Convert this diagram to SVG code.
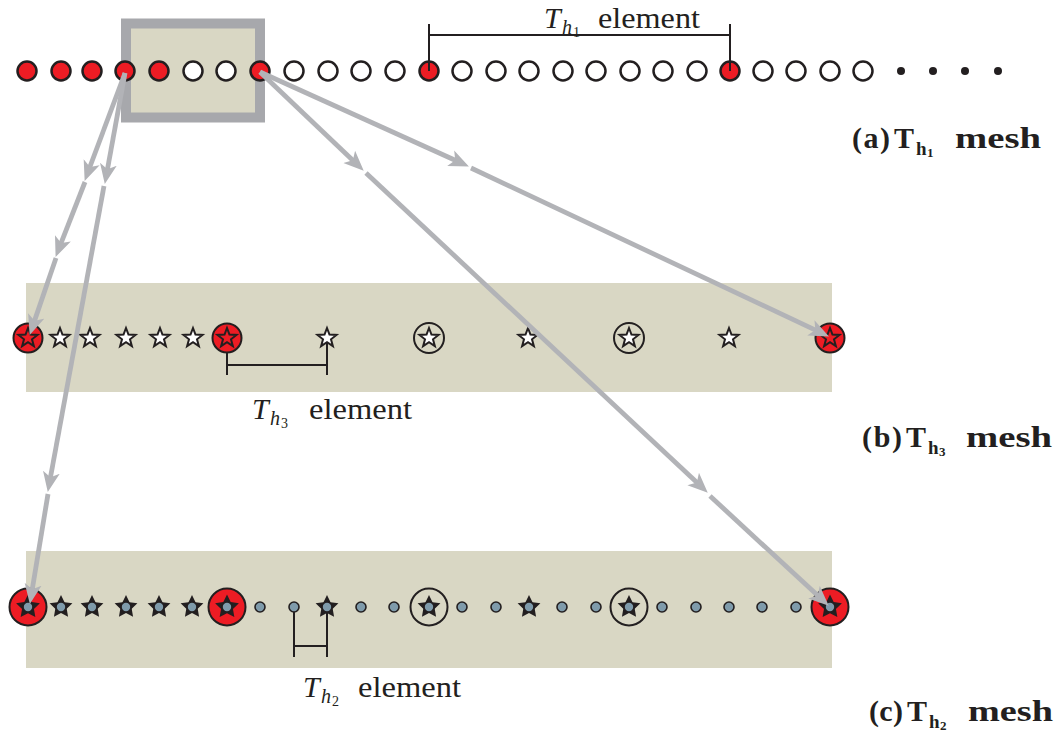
<svg xmlns="http://www.w3.org/2000/svg" xmlns:xlink="http://www.w3.org/1999/xlink" width="1060" height="734" viewBox="0 0 1060 734">
  <style>
    .panel { fill: #d9d7c4; }
    .ring { stroke: #231f20; stroke-width: 2.5; }
    .red { fill: #ed1c24; }
    .white { fill: #ffffff; }
    .dot { fill: #231f20; }
    .hollow { fill: none; stroke: #231f20; stroke-width: 2; }
    .redc { fill: #ed1c24; stroke: #231f20; stroke-width: 2; }
    .wstar { fill: #ffffff; stroke: #231f20; stroke-width: 2; stroke-linejoin: miter; }
    .rstar { fill: #ed1c24; stroke: #231f20; stroke-width: 2; }
    .bstar { fill: #231f20; }
    .bdot { fill: #7f9bab; stroke: #231f20; stroke-width: 1.6; }
    .bracket { fill: none; stroke: #231f20; stroke-width: 2; }
    .lbl { fill: #231f20; }
    .it { font-style: italic; }
    .bold { font-weight: bold; }
    .arrow { fill: none; stroke: #b2b3b7; stroke-width: 4.8; stroke-linecap: butt; marker-end: url(#head); }
  </style>
  <defs>
    <marker id="head" viewBox="0 0 20 18" markerWidth="20" markerHeight="18" refX="11" refY="9" orient="auto" markerUnits="userSpaceOnUse">
      <path d="M0,0.5 L20,9 L0,17.5 L5,9 Z" fill="#b2b3b7"/>
    </marker>
    <path id="star" d="M0,-10 L2.47,-3.4 L9.51,-3.09 L3.99,1.3 L5.88,8.09 L0,4.2 L-5.88,8.09 L-3.99,1.3 L-9.51,-3.09 L-2.47,-3.4 Z"/>
    <path id="fstar" d="M0,-10 L2.94,-4.05 L9.51,-3.09 L4.76,1.55 L5.88,8.09 L0,5 L-5.88,8.09 L-4.76,1.55 L-9.51,-3.09 L-2.94,-4.05 Z"/>
  </defs>

  <rect width="1060" height="734" fill="#ffffff"/>

  <!-- zoom frame around the first element group -->
  <rect id="frame" x="126" y="23.5" width="134" height="94" fill="#d9d7c4" stroke="#a7a8ac" stroke-width="10"/>

  <!-- mesh panels -->
  <rect id="panel-b" class="panel" x="26" y="283" width="806" height="109"/>
  <rect id="panel-c" class="panel" x="26" y="551" width="806" height="117"/>

  <!-- (a) coarse mesh nodes -->
  <g id="mesh-a">
    <g id="a0"><circle class="ring red" cx="27" cy="71" r="9.5"/></g>
    <g id="a1"><circle class="ring red" cx="61" cy="71" r="9.5"/></g>
    <g id="a2"><circle class="ring red" cx="92" cy="71" r="9.5"/></g>
    <g id="a3"><circle class="ring red" cx="125" cy="71" r="9.5"/></g>
    <g id="a4"><circle class="ring red" cx="159" cy="71" r="9.5"/></g>
    <g id="a5"><circle class="ring white" cx="193" cy="71" r="9.5"/></g>
    <g id="a6"><circle class="ring white" cx="226" cy="71" r="9.5"/></g>
    <g id="a7"><circle class="ring red" cx="260" cy="71" r="9.5"/></g>
    <g id="a8"><circle class="ring white" cx="294" cy="71" r="9.5"/></g>
    <g id="a9"><circle class="ring white" cx="328" cy="71" r="9.5"/></g>
    <g id="a10"><circle class="ring white" cx="361" cy="71" r="9.5"/></g>
    <g id="a11"><circle class="ring white" cx="395" cy="71" r="9.5"/></g>
    <g id="a12"><circle class="ring red" cx="429" cy="71" r="9.5"/></g>
    <g id="a13"><circle class="ring white" cx="462" cy="71" r="9.5"/></g>
    <g id="a14"><circle class="ring white" cx="496" cy="71" r="9.5"/></g>
    <g id="a15"><circle class="ring white" cx="529" cy="71" r="9.5"/></g>
    <g id="a16"><circle class="ring white" cx="563" cy="71" r="9.5"/></g>
    <g id="a17"><circle class="ring white" cx="596" cy="71" r="9.5"/></g>
    <g id="a18"><circle class="ring white" cx="630" cy="71" r="9.5"/></g>
    <g id="a19"><circle class="ring white" cx="663" cy="71" r="9.5"/></g>
    <g id="a20"><circle class="ring white" cx="697" cy="71" r="9.5"/></g>
    <g id="a21"><circle class="ring red" cx="730" cy="71" r="9.5"/></g>
    <g id="a22"><circle class="ring white" cx="763" cy="71" r="9.5"/></g>
    <g id="a23"><circle class="ring white" cx="796" cy="71" r="9.5"/></g>
    <g id="a24"><circle class="ring white" cx="830" cy="71" r="9.5"/></g>
    <g id="a25"><circle class="ring white" cx="863" cy="71" r="9.5"/></g>
    <g id="a26"><circle class="dot" cx="901" cy="71" r="4"/></g>
    <g id="a27"><circle class="dot" cx="933" cy="71" r="4"/></g>
    <g id="a28"><circle class="dot" cx="965" cy="71" r="4"/></g>
    <g id="a29"><circle class="dot" cx="998" cy="71" r="4"/></g>
  </g>

  <g id="labels" font-family="'Liberation Serif', 'Times New Roman', 'DejaVu Serif', serif">
    <!-- (a) element bracket and label -->
    <g id="bracket-a">
      <path class="bracket" d="M429,24 V71 M730,24 V71 M429,35 H730"/>
      <text class="lbl it" x="544" y="28" font-size="30">T</text>
      <text class="lbl it" x="562" y="34" font-size="20">h</text>
      <text class="lbl" x="573" y="37" font-size="14">1</text>
      <text class="lbl" x="598" y="28" font-size="29" textLength="102" lengthAdjust="spacingAndGlyphs">element</text>
    </g>

    <!-- (b) element bracket and label -->
    <g id="bracket-b">
      <path class="bracket" d="M227,338 V375 M327,338 V375 M227,365 H327"/>
      <text class="lbl it" x="252" y="419" font-size="30">T</text>
      <text class="lbl it" x="270" y="425" font-size="20">h</text>
      <text class="lbl" x="281" y="428" font-size="14">3</text>
      <text class="lbl" x="309" y="419" font-size="29" textLength="103" lengthAdjust="spacingAndGlyphs">element</text>
    </g>

    <!-- (c) element bracket and label -->
    <g id="bracket-c">
      <path class="bracket" d="M294,607 V657 M327,607 V657 M294,646 H327"/>
      <text class="lbl it" x="303" y="697" font-size="30">T</text>
      <text class="lbl it" x="321" y="703" font-size="20">h</text>
      <text class="lbl" x="332" y="706" font-size="14">2</text>
      <text class="lbl" x="358" y="697" font-size="29" textLength="103" lengthAdjust="spacingAndGlyphs">element</text>
    </g>

    <!-- panel captions -->
    <g id="caption-a">
      <text class="lbl bold" x="852" y="148" font-size="30" textLength="38" lengthAdjust="spacing">(a)</text>
      <text class="lbl bold" x="894" y="148" font-size="30">T</text>
      <text class="lbl bold" x="916" y="155" font-size="19">h</text>
      <text class="lbl bold" x="927" y="157" font-size="13">1</text>
      <text class="lbl bold" x="955" y="148" font-size="30" textLength="86" lengthAdjust="spacingAndGlyphs">mesh</text>
    </g>
    <g id="caption-b">
      <text class="lbl bold" x="862" y="447" font-size="30" textLength="40" lengthAdjust="spacing">(b)</text>
      <text class="lbl bold" x="906" y="447" font-size="30">T</text>
      <text class="lbl bold" x="928" y="454" font-size="19">h</text>
      <text class="lbl bold" x="939" y="456" font-size="13">3</text>
      <text class="lbl bold" x="966" y="447" font-size="30" textLength="86" lengthAdjust="spacingAndGlyphs">mesh</text>
    </g>
    <g id="caption-c">
      <text class="lbl bold" x="869" y="721" font-size="30" textLength="34" lengthAdjust="spacing">(c)</text>
      <text class="lbl bold" x="907" y="721" font-size="30">T</text>
      <text class="lbl bold" x="929" y="728" font-size="19">h</text>
      <text class="lbl bold" x="940" y="730" font-size="13">2</text>
      <text class="lbl bold" x="968" y="721" font-size="30" textLength="85" lengthAdjust="spacingAndGlyphs">mesh</text>
    </g>
  </g>

  <!-- (b) mesh nodes -->
  <g id="mesh-b">
    <g id="b0"><circle class="redc" cx="28" cy="338" r="14.5"/><use href="#star" class="rstar" transform="translate(28,338)"/></g>
    <g id="b1"><use href="#star" class="wstar" transform="translate(60,338)"/></g>
    <g id="b2"><use href="#star" class="wstar" transform="translate(90,338)"/></g>
    <g id="b3"><use href="#star" class="wstar" transform="translate(126,338)"/></g>
    <g id="b4"><use href="#star" class="wstar" transform="translate(160,338)"/></g>
    <g id="b5"><use href="#star" class="wstar" transform="translate(193,338)"/></g>
    <g id="b6"><circle class="redc" cx="227" cy="338" r="14.5"/><use href="#star" class="rstar" transform="translate(227,338)"/></g>
    <g id="b7"><use href="#star" class="wstar" transform="translate(327,338)"/></g>
    <g id="b8"><circle class="hollow" cx="429" cy="338" r="15"/><use href="#star" class="wstar" transform="translate(429,338)"/></g>
    <g id="b9"><use href="#star" class="wstar" transform="translate(528,338)"/></g>
    <g id="b10"><circle class="hollow" cx="629" cy="338" r="15"/><use href="#star" class="wstar" transform="translate(629,338)"/></g>
    <g id="b11"><use href="#star" class="wstar" transform="translate(729,338)"/></g>
    <g id="b12"><circle class="redc" cx="830" cy="338" r="14.5"/><use href="#star" class="rstar" transform="translate(830,338)"/></g>
  </g>

  <!-- (c) mesh nodes -->
  <g id="mesh-c">
    <g id="c0"><circle class="redc" cx="28" cy="607" r="18.5"/><use href="#fstar" class="bstar" transform="translate(28,607) scale(1.25)"/><circle class="bdot" cx="28" cy="607" r="5"/></g>
    <g id="c1"><use href="#fstar" class="bstar" transform="translate(61,607) scale(1.2)"/><circle class="bdot" cx="61" cy="607" r="5"/></g>
    <g id="c2"><use href="#fstar" class="bstar" transform="translate(92,607) scale(1.2)"/><circle class="bdot" cx="92" cy="607" r="5"/></g>
    <g id="c3"><use href="#fstar" class="bstar" transform="translate(126,607) scale(1.2)"/><circle class="bdot" cx="126" cy="607" r="5"/></g>
    <g id="c4"><use href="#fstar" class="bstar" transform="translate(159,607) scale(1.2)"/><circle class="bdot" cx="159" cy="607" r="5"/></g>
    <g id="c5"><use href="#fstar" class="bstar" transform="translate(192,607) scale(1.2)"/><circle class="bdot" cx="192" cy="607" r="5"/></g>
    <g id="c6"><circle class="redc" cx="227" cy="607" r="18.5"/><use href="#fstar" class="bstar" transform="translate(227,607) scale(1.25)"/><circle class="bdot" cx="227" cy="607" r="5"/></g>
    <g id="c7"><circle class="bdot" cx="260" cy="607" r="5"/></g>
    <g id="c8"><circle class="bdot" cx="294" cy="607" r="5"/></g>
    <g id="c9"><use href="#fstar" class="bstar" transform="translate(327,607) scale(1.2)"/><circle class="bdot" cx="327" cy="607" r="5"/></g>
    <g id="c10"><circle class="bdot" cx="361" cy="607" r="5"/></g>
    <g id="c11"><circle class="bdot" cx="394" cy="607" r="5"/></g>
    <g id="c12"><circle class="hollow" cx="429" cy="607" r="18.5"/><use href="#fstar" class="bstar" transform="translate(429,607) scale(1.2)"/><circle class="bdot" cx="429" cy="607" r="5"/></g>
    <g id="c13"><circle class="bdot" cx="462" cy="607" r="5"/></g>
    <g id="c14"><circle class="bdot" cx="496" cy="607" r="5"/></g>
    <g id="c15"><use href="#fstar" class="bstar" transform="translate(529,607) scale(1.2)"/><circle class="bdot" cx="529" cy="607" r="5"/></g>
    <g id="c16"><circle class="bdot" cx="562" cy="607" r="5"/></g>
    <g id="c17"><circle class="bdot" cx="596" cy="607" r="5"/></g>
    <g id="c18"><circle class="hollow" cx="629" cy="607" r="18.5"/><use href="#fstar" class="bstar" transform="translate(629,607) scale(1.2)"/><circle class="bdot" cx="629" cy="607" r="5"/></g>
    <g id="c19"><circle class="bdot" cx="662" cy="607" r="5"/></g>
    <g id="c20"><circle class="bdot" cx="696" cy="607" r="5"/></g>
    <g id="c21"><circle class="bdot" cx="729" cy="607" r="5"/></g>
    <g id="c22"><circle class="bdot" cx="762" cy="607" r="5"/></g>
    <g id="c23"><circle class="bdot" cx="796" cy="607" r="5"/></g>
    <g id="c24"><circle class="redc" cx="830" cy="607" r="18.5"/><use href="#fstar" class="bstar" transform="translate(830,607) scale(1.25)"/><circle class="bdot" cx="830" cy="607" r="5"/></g>
  </g>

  <!-- refinement connectors -->
  <g id="connectors">
    <path class="arrow" d="M125,73 L87.8,172.5"/>
    <path class="arrow" d="M85,182 L58.9,248.6"/>
    <path class="arrow" d="M56,258 L32.6,326.4"/>
    <path class="arrow" d="M125,73 L106.4,175.1"/>
    <path class="arrow" d="M104,186 L49.4,483.1"/>
    <path class="arrow" d="M48,494 L31.3,595.1"/>
    <path class="arrow" d="M260,72 L357.2,164.5"/>
    <path class="arrow" d="M366,173 L701.2,486.5"/>
    <path class="arrow" d="M710,496 L822.1,599.6"/>
    <path class="arrow" d="M260,72 L460.7,162.7"/>
    <path class="arrow" d="M471,168 L820.8,332.6"/>
  </g>
</svg>
